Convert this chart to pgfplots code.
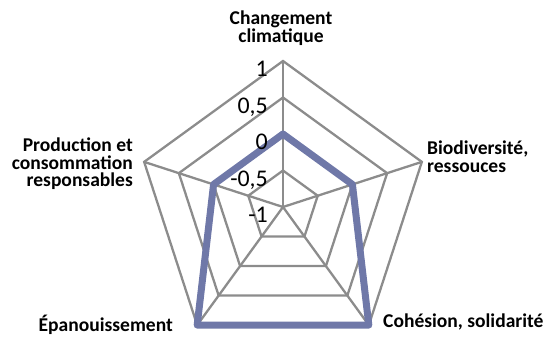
\documentclass[border=0pt]{standalone}
\usepackage{fontspec}
\setmainfont{Carlito}
\usepackage{pgfplots}
\usepgfplotslibrary{polar}
\pgfplotsset{compat=1.18}

\definecolor{serie}{HTML}{6F78A8}
\definecolor{grille}{HTML}{8C8C8C}

% angle (deg) et note, premier point repete pour fermer
\pgfplotstableread{
angle valeur
90 0
18 0
-54 1
-126 1
162 0
90 0
18 0
}\scores

\newcommand{\cat}{\fontsize{19.6}{17.6}\selectfont\bfseries}
\newcommand{\tick}{\fontsize{24}{24}\selectfont}

\begin{document}
\begin{tikzpicture}[ticklab/.style={anchor=north east, inner sep=0pt, font=\tick, xshift=-15bp}]
\begin{polaraxis}[
  scale only axis, width=292bp, height=292bp,
  ymin=-1, ymax=1,
  y coord trafo/.code={\pgfmathparse{#1+1}},
  y coord inv trafo/.code={\pgfmathparse{#1-1}},
  axis line style={draw=none},
  xtick=\empty, ytick=\empty,
  xmajorgrids=false, ymajorgrids=false,
  clip=false,
]
\foreach \r in {-0.5,0,0.5,1} {
  \edef\tmp{\noexpand\addplot[grille, line width=2.3bp, line join=miter, no marks]
    coordinates {(90,\r) (18,\r) (-54,\r) (-126,\r) (162,\r) (90,\r) (18,\r)};}
  \tmp
}
\foreach \a in {90,18,-54,-126,162} {
  \edef\tmp{\noexpand\addplot[grille, line width=2.3bp, no marks]
    coordinates {(\a,-1) (\a,1)};}
  \tmp
}
\addplot[serie, line width=7bp, line join=round, no marks] table[x=angle, y=valeur] {\scores};
\coordinate (c) at (axis cs:0,-1);
\node[ticklab] at (axis cs:90,1) {1};
\node[ticklab] at (axis cs:90,0.5) {0,5};
\node[ticklab] at (axis cs:90,0) {0};
\node[ticklab] at (axis cs:90,-0.5) {-0,5};
\node[ticklab] at (axis cs:90,-1) {-1};
\end{polaraxis}
\node[anchor=north, inner sep=0pt, align=center, font=\cat] at ([shift={(-2bp,196bp)}]c) {Changement\\climatique};
\node[anchor=north west, inner sep=0pt, align=left, font=\cat] at ([shift={(144bp,66bp)}]c) {Biodiversité,\\ressouces};
\node[anchor=base west, inner sep=0pt, font=\cat] at ([shift={(100bp,-120.3bp)}]c) {Cohésion, solidarité};
\node[anchor=base east, inner sep=0pt, font=\cat] at ([shift={(-110bp,-124.7bp)}]c) {Épanouissement};
\node[anchor=north east, inner sep=0pt, align=right, font=\cat] at ([shift={(-150bp,69bp)}]c) {Production et\\consommation\\responsables};
\pgfresetboundingbox
\path[use as bounding box] ([shift={(-283bp,-131bp)}]c) rectangle ([shift={(264bp,207bp)}]c);
\end{tikzpicture}
\end{document}
